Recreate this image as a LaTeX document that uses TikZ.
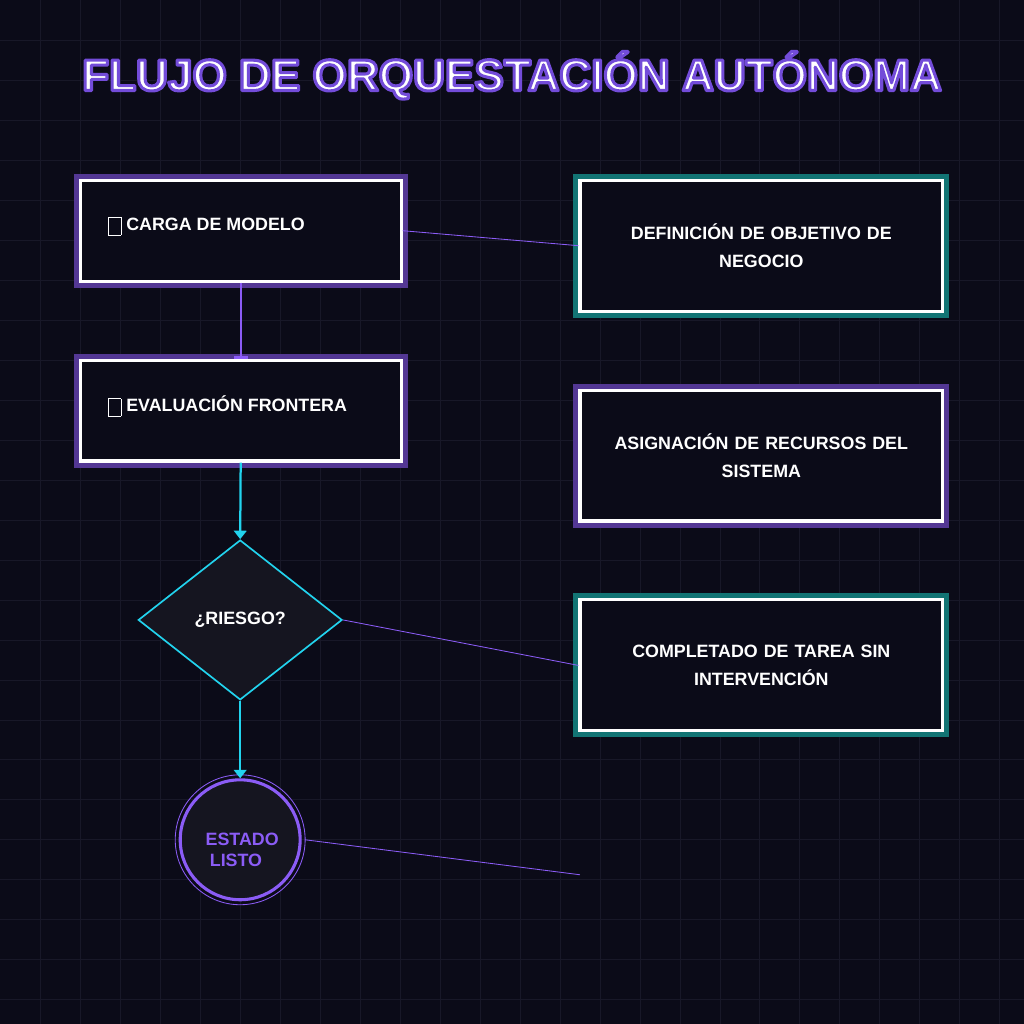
\documentclass[tikz,border=0pt]{standalone}
\usepackage{fontspec}
\setmainfont{Liberation Sans}
\usetikzlibrary{shapes.geometric,arrows.meta}
\definecolor{bgdark}{HTML}{0B0B18}
\definecolor{gridc}{HTML}{181828}
\definecolor{violet}{HTML}{8B5CF6}
\definecolor{teal}{HTML}{1AA6A6}
\definecolor{cyanl}{HTML}{22D3EE}
\definecolor{shapefill}{HTML}{151520}
\newcommand{\tofu}{\raisebox{0pt}{\fbox{\rule{0pt}{6pt}\hspace{2.5pt}}}\ }
\newcommand{\outlined}[1]{\special{pdf:code q 0.45 0.3 0.85 RG 2.2 w 1 j 2 Tr}#1\special{pdf:code Q}}
\tikzset{
  stepbox/.style={draw=white, line width=2.2pt, fill=bgdark, minimum width=321*0.025cm,
    minimum height=101*0.025cm, text=white, font=\bfseries\fontsize{12.7}{15}\selectfont},
  info/.style={stepbox, minimum width=363*0.025cm, minimum height=131*0.025cm, align=center,
    text width=300*0.025cm},
  link/.style={violet, line width=0.6pt},
  flow/.style={cyanl, line width=1.6pt, -{Triangle[width=9pt,length=6pt]}},
}
\begin{document}
\begin{tikzpicture}[x=0.025cm,y=-0.025cm]
  \fill[bgdark] (0,0) rectangle (1024,1024);
  \foreach \g in {40,80,...,1000} {
    \draw[gridc, line width=0.5pt] (\g,0) -- (\g,1024);
    \draw[gridc, line width=0.5pt] (0,\g) -- (1024,\g);
  }
  \useasboundingbox (0,0) rectangle (1024,1024);
  % titulo
  \node (title) [text=white, font=\bfseries\fontsize{31.4}{36}\selectfont] at (512,75) {\outlined{FLUJO DE ORQUESTACIÓN AUTÓNOMA}};
  % columna izquierda
  \draw[violet!60!black, line width=5pt, fill=black] (77,177) rectangle (404,284);
  \node (carga) [stepbox] at (240.5,230.5) {};
  \node[text=white, font=\bfseries\fontsize{12.7}{15}\selectfont, anchor=west] at (103,226) {\tofu CARGA DE MODELO};
  \draw[violet!60!black, line width=5pt, fill=black] (77,357) rectangle (404,464);
  \node (eval) [stepbox] at (240.5,410.5) {};
  \node[text=white, font=\bfseries\fontsize{12.7}{15}\selectfont, anchor=west] at (103,406) {\tofu EVALUACIÓN FRONTERA};
  \node (riesgo) [diamond, draw=cyanl, fill=shapefill, line width=1.2pt, minimum width=204*0.025cm,
    minimum height=160*0.025cm, inner sep=0pt, text=white, font=\bfseries\fontsize{12.7}{15}\selectfont] at (240,620) {¿RIESGO?};
  \node (listo) [circle, draw=violet, fill=shapefill, line width=2.2pt, minimum size=120*0.025cm] at (240,840) {};
  \node[text=violet, align=left, font=\bfseries\fontsize{12.7}{15}\selectfont] at (242,850) {ESTADO\\ \hspace{3pt}LISTO};
  \draw[violet, line width=0.6pt] (listo.center) circle (65*0.025cm);
  % columna derecha
  \draw[teal!70!black, line width=5pt, fill=black] (577,177) rectangle (946,314);
  \node (objetivo) [info] at (761.5,245.5) {DEFINICIÓN DE OBJETIVO DE\\[5pt] NEGOCIO};
  \draw[violet!60!black, line width=5pt, fill=black] (577,387) rectangle (946,524);
  \node (recursos) [info] at (761.5,455.5) {ASIGNACIÓN DE RECURSOS DEL\\[5pt] SISTEMA};
  \draw[teal!70!black, line width=5pt, fill=black] (577,597) rectangle (946,734);
  \node (tarea) [info] at (761.5,665.5) {COMPLETADO DE TAREA SIN\\[5pt] INTERVENCIÓN};
  \coordinate (fin) at (580,875);
  % conectores
  \draw[link] (carga.east) -- (objetivo.west);
  \draw[link] (riesgo.east) -- (tarea.west);
  \draw[link] (305,840) -- (fin);
  \draw[violet, line width=1.6pt, -{Bar[width=10pt]}] (carga.south) -- (eval.north);
  \draw[flow] (eval.south) -- (riesgo.north);
  \draw[flow] (riesgo.south) -- (listo.north);
\end{tikzpicture}
\end{document}
